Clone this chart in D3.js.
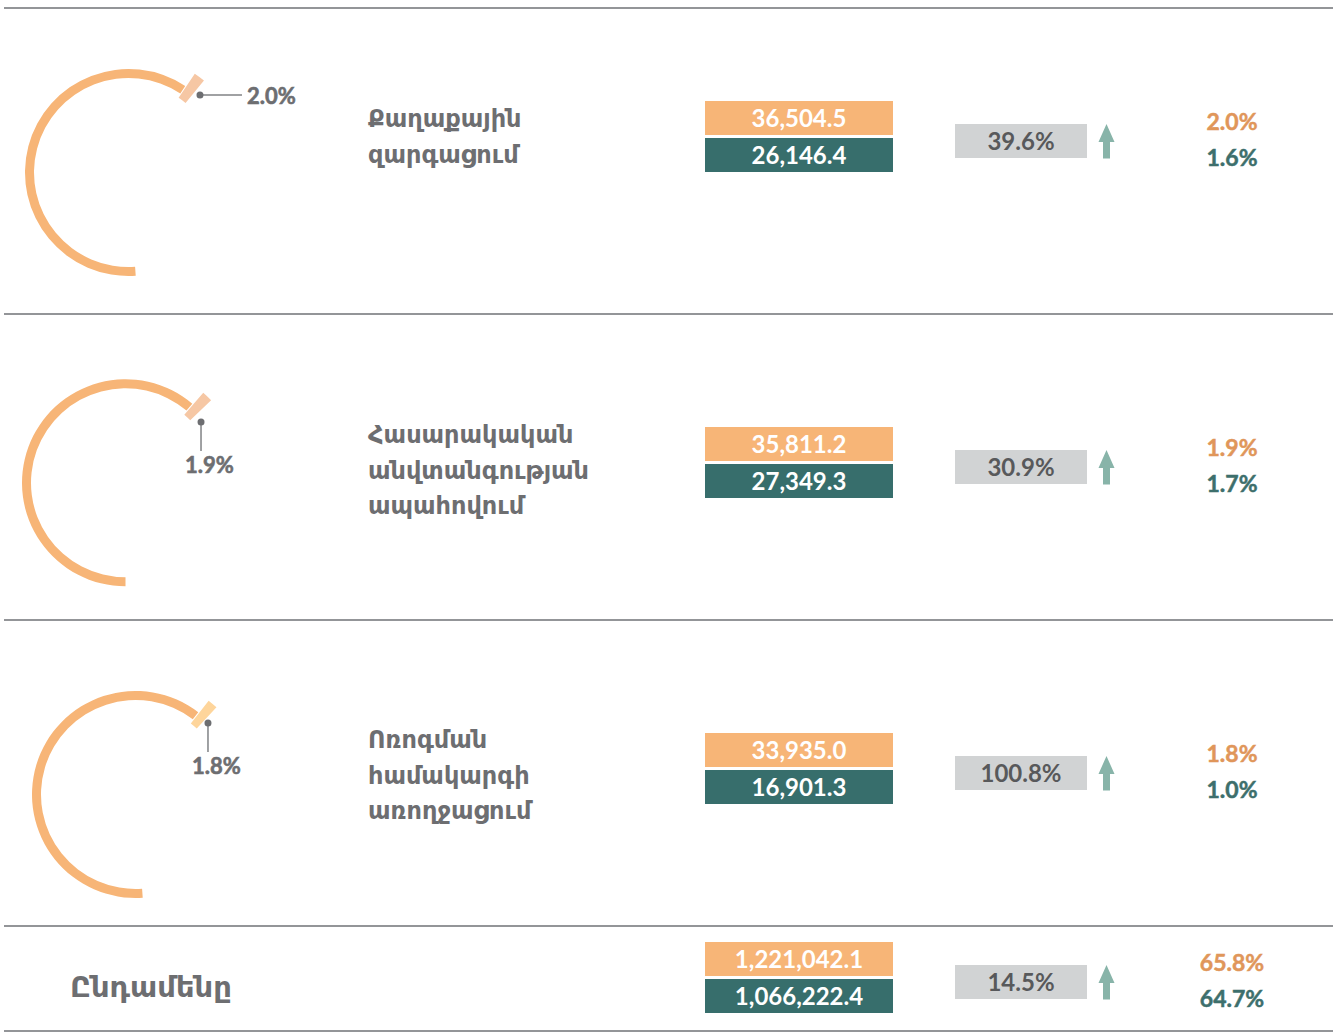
<!DOCTYPE html>
<html>
<head>
<meta charset="utf-8">
<script src="https://cdn.jsdelivr.net/npm/d3@7"></script>
<style>
  body { margin: 0; background: #fff; }
  .arm { font-family: "DejaVu Sans", sans-serif; font-weight: bold; fill: #6d6e71; }
  .num { font-family: Lato, "Open Sans", sans-serif; }
</style>
</head>
<body>
<svg id="chart"></svg>
<script>
// ---- data ----
const categories = [
  ["Քաղաքային", "զարգացում"],
  ["Հասարակական", "անվտանգության", "ապահովում"],
  ["Ոռոգման", "համակարգի", "առողջացում"]
];
const totalLabel = "Ընդամենը";
const budget2023 = [36504.5, 35811.2, 33935.0];
const budget2022 = [26146.4, 27349.3, 16901.3];
const growth = [39.6, 30.9, 100.8];
const share2023 = [2.0, 1.9, 1.8];
const share2022 = [1.6, 1.7, 1.0];
const totals2023 = 1221042.1;
const totals2022 = 1066222.4;
const totalGrowth = 14.5;
const totalShare2023 = 65.8;
const totalShare2022 = 64.7;

// ---- layout ----
const width = 1333, height = 1033;
const rowMid = [136.5, 462.5, 768.5, 977.5];   // vertical middle of the box pair
const sepY = [8, 314, 620, 926, 1031];
const ringCenter = [[128.5, 172.5], [125.5, 482.8], [135.5, 794.5]];
const ringStart = [176, 180, 176];              // degrees, clockwise from 12 o'clock
const sliceAt = [36.6, 43.4, 40.4];
const sliceColor = ["#f6c7a4", "#f6c7a4", "#fed59b"];
const dotPolar = [[42.7, 105.4], [51.2, 96.9], [45.4, 101.8]];
const labelSide = ["right", "below", "below"];
const lineTop = [127, 443, 748];

const fmt = d3.format(",.1f");
const pct = d => d.toFixed(1) + "%";
const rad = d => d * Math.PI / 180;

const orange = "#f7b577", teal = "#376e6c";

const svg = d3.select("#chart").attr("width", width).attr("height", height);

// separators
svg.selectAll("line.sep").data(sepY).enter().append("line")
  .attr("class", "sep")
  .attr("x1", 4).attr("x2", width)
  .attr("y1", d => d).attr("y2", d => d)
  .attr("stroke", "#939598").attr("stroke-width", 2);

// share of ring: how many degrees one percent takes
const ringScale = d3.scaleLinear().domain([0, 100]).range([0, 275]);

const ring = d3.arc().innerRadius(94.5).outerRadius(103.5);
const slice = d3.arc().innerRadius(90).outerRadius(119);

const rows = categories.map((c, i) => ({
  i, lines: c, v23: budget2023[i], v22: budget2022[i], g: growth[i],
  s23: share2023[i], s22: share2022[i]
}));

// ---- rings ----
const gauge = svg.selectAll("g.gauge").data(rows).enter().append("g")
  .attr("class", "gauge")
  .attr("transform", d => `translate(${ringCenter[d.i][0]},${ringCenter[d.i][1]})`);

gauge.append("path")
  .attr("fill", orange)
  .attr("d", d => {
    const half = ringScale(d.s23) / 2;
    return ring({ startAngle: rad(ringStart[d.i]), endAngle: rad(360 + sliceAt[d.i] - half - 0.6) });
  });

gauge.append("path")
  .attr("fill", d => sliceColor[d.i])
  .attr("d", d => {
    const half = ringScale(d.s23) / 2;
    return slice({ startAngle: rad(sliceAt[d.i] - half), endAngle: rad(sliceAt[d.i] + half) });
  });

gauge.each(function(d) {
  const g = d3.select(this);
  const a = rad(dotPolar[d.i][0]), r = dotPolar[d.i][1];
  const x = r * Math.sin(a), y = -r * Math.cos(a);
  let lbl;
  if (labelSide[d.i] === "right") {
    g.append("line").attr("x1", x).attr("y1", y).attr("x2", x + 42).attr("y2", y)
      .attr("stroke", "#808285").attr("stroke-width", 1.5);
    lbl = g.append("text").attr("x", x + 47).attr("y", y + 9);
  } else {
    g.append("line").attr("x1", x).attr("y1", y).attr("x2", x).attr("y2", y + 29)
      .attr("stroke", "#808285").attr("stroke-width", 1.5);
    lbl = g.append("text").attr("x", x - 16).attr("y", y + 51);
  }
  lbl.attr("class", "num").attr("font-size", 22).attr("font-weight", "bold")
    .attr("fill", "#6d6e71").attr("stroke", "#6d6e71").attr("stroke-width", 0.6)
    .text(pct(d.s23));
  g.append("circle").attr("cx", x).attr("cy", y).attr("r", 3.5).attr("fill", "#6d6e71");
});

// ---- category names ----
svg.selectAll("text.cat").data(rows).enter().append("text")
  .attr("class", "cat arm")
  .attr("font-size", 24)
  .each(function(d) {
    d3.select(this).selectAll("tspan").data(d.lines).enter().append("tspan")
      .attr("x", 368)
      .attr("y", (l, j) => lineTop[d.i] + j * 35.5)
      .text(l => l);
  });

svg.append("text").attr("class", "arm")
  .attr("x", 70).attr("y", 997).attr("font-size", 29)
  .text(totalLabel);

// ---- value columns ----
const all = rows.map(d => ({ mid: rowMid[d.i], v23: d.v23, v22: d.v22, g: d.g, s23: d.s23, s22: d.s22 }));
all.push({ mid: rowMid[3], v23: totals2023, v22: totals2022, g: totalGrowth, s23: totalShare2023, s22: totalShare2022 });

const col = svg.selectAll("g.vals").data(all).enter().append("g").attr("class", "vals");

col.append("rect").attr("x", 705).attr("width", 188).attr("y", d => d.mid - 35.5).attr("height", 34).attr("fill", orange);
col.append("rect").attr("x", 705).attr("width", 188).attr("y", d => d.mid + 1.5).attr("height", 34).attr("fill", teal);
col.append("text").attr("class", "num").attr("x", 799).attr("y", d => d.mid - 9.5)
  .attr("text-anchor", "middle").attr("font-size", 24).attr("font-weight", "bold").attr("fill", "#fff")
  .text(d => fmt(d.v23));
col.append("text").attr("class", "num").attr("x", 799).attr("y", d => d.mid + 27)
  .attr("text-anchor", "middle").attr("font-size", 24).attr("font-weight", "bold").attr("fill", "#fff")
  .text(d => fmt(d.v22));

col.append("rect").attr("x", 955).attr("width", 132).attr("y", d => d.mid - 12.5).attr("height", 34).attr("fill", "#d1d3d4");
col.append("text").attr("class", "num").attr("x", 1021).attr("y", d => d.mid + 13)
  .attr("text-anchor", "middle").attr("font-size", 24).attr("font-weight", "bold").attr("fill", "#58595b")
  .text(d => pct(d.g));

// growth arrow
col.append("path").attr("fill", "#88b4a9")
  .attr("d", d => {
    const t = d.mid - 12.5, b = d.mid + 22, cx = 1106.5;
    return `M${cx},${t} L${cx + 8},${t + 18} L${cx + 3.5},${t + 18} L${cx + 3.5},${b} L${cx - 3.5},${b} L${cx - 3.5},${t + 18} L${cx - 8},${t + 18} Z`;
  });

col.append("text").attr("class", "num").attr("x", 1232).attr("y", d => d.mid - 7)
  .attr("text-anchor", "middle").attr("font-size", 23).attr("font-weight", "bold")
  .attr("fill", "#e0965a").attr("stroke", "#e0965a").attr("stroke-width", 0.5)
  .text(d => pct(d.s23));
col.append("text").attr("class", "num").attr("x", 1232).attr("y", d => d.mid + 29)
  .attr("text-anchor", "middle").attr("font-size", 23).attr("font-weight", "bold")
  .attr("fill", "#3d6f6c").attr("stroke", "#3d6f6c").attr("stroke-width", 0.5)
  .text(d => pct(d.s22));
</script>
</body>
</html>
